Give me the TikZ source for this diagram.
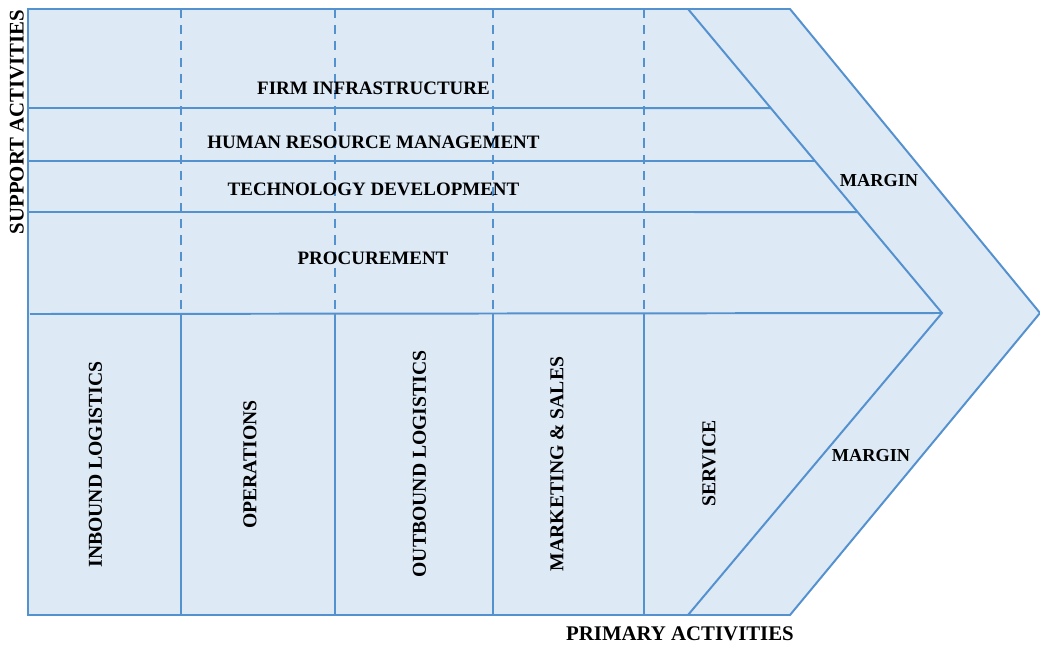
\documentclass[tikz,border=0pt]{standalone}
\usepackage{fontspec}
\setmainfont{Liberation Serif}
\usetikzlibrary{calc}
\definecolor{chainline}{RGB}{84,145,207}
\definecolor{chainfill}{RGB}{221,233,245}
\tikzset{
  chain/.style={draw=chainline, line width=1.4pt},
  divider/.style={chainline, line width=1.4pt, dash pattern=on 6.5pt off 5pt},
  activity/.style={font=\fontsize{13.5}{15}\selectfont\bfseries, inner sep=0pt},
  margin label/.style={font=\fontsize{13}{15}\selectfont\bfseries, inner sep=0pt},
  primary/.style={font=\fontsize{14}{16}\selectfont\bfseries, inner sep=0pt, rotate=90},
  axis label/.style={font=\fontsize{14.8}{16}\selectfont\bfseries, inner sep=0pt}
}
\begin{document}
\begin{tikzpicture}[x=0.025cm, y=-0.025cm]
          \useasboundingbox (0,0) rectangle (1040,646);
          % Outer chevron
          \draw[chain, fill=chainfill, line join=miter] (28,9) -- (790,9) -- (1040,313) -- (790,615) -- (28,615) -- cycle;
          % Inner chevron
          \coordinate (itop) at (688,9);
          \coordinate (itip) at (942,313);
          \coordinate (ibot) at (688,615);
          \draw[chain, line join=miter] (itop) -- (itip) -- (ibot);
          % Support rows
          \draw[chain] (28,108) -- ($(itop)!0.3257!(itip)$);
          \draw[chain] (28,161) -- ($(itop)!0.5!(itip)$);
          \draw[chain] (28,212) -- ($(itop)!0.6678!(itip)$);
          \draw[chain] (30,314) -- (itip);
          % Columns
          \foreach \x in {181,335,493,644} {
            \draw[divider] (\x,9) -- (\x,314);
            \draw[chain] (\x,314) -- (\x,615);
          }
          % Support activities
          \node[activity] (firm) at (373.5,88) {FIRM INFRASTRUCTURE};
          \node[activity] (hrm) at (373.5,142) {HUMAN RESOURCE MANAGEMENT};
          \node[activity] (tech) at (373.5,189) {TECHNOLOGY DEVELOPMENT};
          \node[activity] (proc) at (373,258) {PROCUREMENT};
          % Primary activities
          \node[primary] (inbound) at (95.5,464.5) {INBOUND LOGISTICS};
          \node[primary] (ops) at (250,464.5) {OPERATIONS};
          \node[primary] (outbound) at (419.5,464) {OUTBOUND LOGISTICS};
          \node[primary] (sales) at (557,464) {MARKETING \& SALES};
          \node[primary] (service) at (709,463.5) {SERVICE};
          % Margins
          \node[margin label] (margintop) at (879,181) {MARGIN};
          \node[margin label] (marginbot) at (871,456) {MARGIN};
          % Axis labels
          \node[axis label, rotate=90] (support) at (17,122) {SUPPORT ACTIVITIES};
          \node[axis label] (primary) at (680,634) {PRIMARY ACTIVITIES};
        \end{tikzpicture}
\end{document}
